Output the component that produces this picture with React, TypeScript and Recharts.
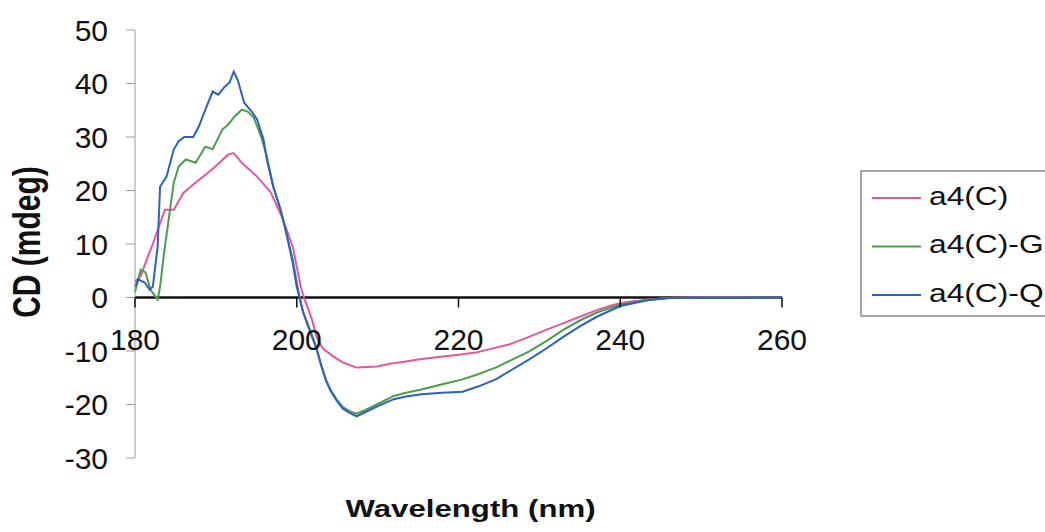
import { LineChart, Line, XAxis, YAxis, ReferenceLine, Label } from 'recharts';

// a4(C)
const a4cWavelength = [180.0, 180.7, 181.6, 182.2, 183.7, 184.8, 186.0, 187.5, 189.6, 191.5, 192.2, 193.2, 195.1, 196.8, 198.3, 199.5, 200.5, 201.0, 201.5, 202.0, 202.4, 203.2, 204.5, 205.8, 207.4, 209.9, 211.5, 213.3, 215.0, 217.0, 220.0, 222.1, 224.0, 226.2, 228.5, 230.9, 233.0, 235.0, 237.0, 239.3, 241.0, 243.4, 246.0, 250.0, 255.0, 260.0];
const a4cCD = [3, 4, 7.7, 10, 16.4, 16.4, 19.6, 21.5, 24, 26.7, 27, 25.2, 22.6, 19.6, 14.6, 9.5, 2, -0.5, -2.5, -4.7, -7.2, -9.5, -11, -12.2, -13.1, -12.9, -12.4, -12, -11.6, -11.2, -10.7, -10.3, -9.6, -8.8, -7.5, -6, -4.8, -3.6, -2.4, -1.3, -0.8, -0.4, -0.1, 0.1, 0.1, 0];

// a4(C)-G
const a4cGWavelength = [180.0, 180.7, 181.3, 181.9, 182.8, 183.1, 183.6, 184.2, 184.8, 185.4, 186.3, 187.5, 188.7, 189.6, 190.8, 191.5, 192.3, 193.2, 193.9, 194.7, 195.6, 196.3, 197.1, 198.0, 198.7, 199.5, 200.1, 200.5, 200.8, 201.5, 202.4, 203.0, 203.6, 204.2, 204.9, 205.7, 206.6, 207.4, 208.5, 209.9, 212.0, 213.5, 215.4, 218.0, 220.5, 222.5, 224.6, 226.5, 228.7, 231.0, 233.0, 235.0, 237.1, 240.0, 243.4, 246.0, 250.0, 255.0, 260.0];
const a4cGCD = [1, 5.2, 4.7, 1.5, -0.4, 2, 8.4, 15, 21.5, 24.5, 25.8, 25.2, 28.2, 27.7, 31.4, 32.3, 33.8, 35.1, 34.8, 33.6, 30, 26.4, 20.7, 16.4, 12.1, 7.1, 2, -1, -2.8, -5.5, -9.2, -12.5, -15.3, -17.3, -19, -20.5, -21.3, -21.7, -21, -20, -18.4, -17.8, -17.2, -16.2, -15.3, -14.3, -13.1, -11.7, -10.1, -8, -6, -4.3, -2.8, -1.3, -0.4, -0.1, 0, 0, 0];

// a4(C)-Q
const a4cQWavelength = [180.0, 180.4, 181.2, 181.8, 182.2, 182.8, 183.1, 183.9, 184.8, 185.4, 186.1, 187.2, 187.9, 188.7, 189.6, 190.3, 191.1, 191.7, 192.2, 192.7, 193.5, 194.4, 195.1, 195.9, 196.3, 197.1, 198.0, 198.7, 199.5, 200.0, 200.5, 200.8, 201.5, 202.4, 203.0, 203.6, 204.2, 204.9, 205.7, 206.6, 207.4, 208.5, 209.9, 212.0, 213.5, 215.4, 218.0, 220.5, 222.5, 224.6, 226.5, 228.7, 231.0, 233.0, 235.0, 237.1, 240.0, 243.4, 246.0, 250.0, 255.0, 260.0];
const a4cQCD = [2, 3.4, 2.8, 1.5, 2, 9.5, 20.7, 22.6, 27.7, 29.2, 30, 30, 32, 35.1, 38.5, 37.9, 39.4, 40.2, 42.2, 40.7, 36.4, 34.8, 33.3, 29.5, 25.8, 20.7, 16.4, 12.1, 6.5, 2, -1, -2.8, -5.8, -9.4, -12.6, -15.5, -17.5, -19.2, -20.8, -21.6, -22.2, -21.4, -20.4, -19, -18.5, -18.1, -17.8, -17.6, -16.6, -15.3, -13.6, -11.6, -9.4, -7.3, -5.4, -3.6, -1.6, -0.5, -0.1, 0, 0, 0];

const xTicks = [180, 200, 220, 240, 260];
const yTicks = [-30, -20, -10, 0, 10, 20, 30, 40, 50];

const toPoints = (xs: number[], ys: number[]) => xs.map((x, i) => ({ x, y: ys[i] }));

const series = [
  { name: 'a4(C)', color: '#e8559f', data: toPoints(a4cWavelength, a4cCD) },
  { name: 'a4(C)-G', color: '#4c9d4a', data: toPoints(a4cGWavelength, a4cGCD) },
  { name: 'a4(C)-Q', color: '#2e5fc2', data: toPoints(a4cQWavelength, a4cQCD) },
];

const W = 1045;
const H = 532;
const margin = { top: 30, right: 263, bottom: 44, left: 0 };
const Y_AXIS_W = 135;
const X_AXIS_H = 30;
const plotH = H - margin.top - margin.bottom - X_AXIS_H;
// pixel row of y = 0, where the x axis crosses
const ZERO_Y = margin.top + (yTicks[yTicks.length - 1] / (yTicks[yTicks.length - 1] - yTicks[0])) * plotH;

const FONT = '"Liberation Sans", Arial, sans-serif';

function XTick(props: any) {
  const { x, payload } = props;
  return (
    <g>
      <line x1={x} x2={x} y1={ZERO_Y} y2={ZERO_Y + 10} stroke="#111" strokeWidth={1.5} />
      <text x={x} y={ZERO_Y + 45} textAnchor="middle" dominantBaseline="middle" fontSize={30} fill="#111" fontFamily={FONT}>
        {payload.value}
      </text>
    </g>
  );
}

export default function App() {
  return (
    <div style={{ position: 'absolute', left: 0, top: 0, width: W, height: H, overflow: 'hidden', background: '#fff', fontFamily: FONT }}>
      <LineChart width={W} height={H} margin={margin}>
        <XAxis
          type="number"
          dataKey="x"
          domain={[180, 260]}
          ticks={xTicks}
          height={X_AXIS_H}
          axisLine={false}
          tickLine={false}
          tick={<XTick />}
          allowDuplicatedCategory={false}
        >
          <Label
            content={(p: any) => {
              const vb = p.viewBox;
              return (
                <text
                  transform={`translate(${vb.x + vb.width / 2 + 12}, 517) scale(1.3,1)`}
                  textAnchor="middle"
                  fontSize={24}
                  fontWeight="bold"
                  fill="#111"
                  fontFamily={FONT}
                >
                  Wavelength (nm)
                </text>
              );
            }}
          />
        </XAxis>
        <YAxis
          type="number"
          domain={[-30, 50]}
          ticks={yTicks}
          width={Y_AXIS_W}
          tickSize={9}
          tickMargin={18}
          axisLine={{ stroke: '#9a9a9a', strokeWidth: 1 }}
          tickLine={{ stroke: '#9a9a9a', strokeWidth: 1 }}
          tick={{ fill: '#111', fontSize: 30, fontFamily: FONT }}
        >
          <Label
            content={(p: any) => {
              const vb = p.viewBox;
              return (
                <text
                  transform={`translate(30, ${vb.y + vb.height / 2 - 2}) scale(1.3,1) rotate(-90)`}
                  textAnchor="middle"
                  dominantBaseline="middle"
                  fontSize={30}
                  fontWeight="bold"
                  fill="#111"
                  fontFamily={FONT}
                >
                  CD (mdeg)
                </text>
              );
            }}
          />
        </YAxis>
        <ReferenceLine y={0} stroke="#111" strokeWidth={2.5} />
        {series.map(s => (
          <Line
            key={s.name}
            data={s.data}
            dataKey="y"
            name={s.name}
            type="linear"
            stroke={s.color}
            strokeWidth={2}
            dot={false}
            isAnimationActive={false}
          />
        ))}
      </LineChart>

      {/* legend */}
      <svg width={W} height={H} style={{ position: 'absolute', left: 0, top: 0, pointerEvents: 'none' }}>
        <rect x={861} y={171} width={220} height={145} fill="#fff" stroke="#888" strokeWidth={1.5} />
        {series.map((s, i) => {
          const cy = 198 + i * 48.5;
          return (
            <g key={s.name}>
              <line x1={872} x2={921} y1={cy} y2={cy} stroke={s.color} strokeWidth={2} />
              <text
                transform={`translate(929, ${cy}) scale(1.27,1)`}
                dominantBaseline="middle"
                fontSize={25}
                fill="#111"
                fontFamily={FONT}
              >
                {s.name}
              </text>
            </g>
          );
        })}
      </svg>
    </div>
  );
}
